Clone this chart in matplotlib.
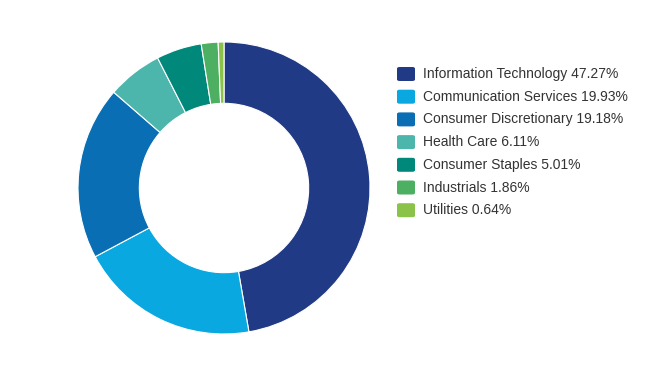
import matplotlib.pyplot as plt
from matplotlib.patches import FancyBboxPatch

# Data
sectors = ["Information Technology", "Communication Services", "Consumer Discretionary",
           "Health Care", "Consumer Staples", "Industrials", "Utilities"]
weights = [47.27, 19.93, 19.18, 6.11, 5.01, 1.86, 0.64]
colors = ["#213a85", "#0aa8e0", "#0a6eb4", "#4db6ac", "#00897b", "#4caf62", "#8bc34a"]

plt.rcParams['font.family'] = ['Liberation Sans', 'DejaVu Sans']

W, H = 659, 385
fig = plt.figure(figsize=(W / 100, H / 100), dpi=100)
fig.patch.set_facecolor("white")

# Donut
cx, cy, r = 224, 188, 146
ax = fig.add_axes([(cx - r) / W, (H - cy - r) / H, 2 * r / W, 2 * r / H])
ax.pie(weights, colors=colors, startangle=90, counterclock=False,
       wedgeprops=dict(width=0.42, edgecolor="white", linewidth=0.8))
ax.set_aspect("equal")
ax.set_xlim(-1, 1)
ax.set_ylim(-1, 1)

# Legend
y0, dy = 74, 22.7
for i, (name, val, c) in enumerate(zip(sectors, weights, colors)):
    y = y0 + i * dy
    box = FancyBboxPatch(((397) / W, (H - y - 7) / H), 18 / W, 14 / H,
                         boxstyle="round,pad=0,rounding_size=0.004",
                         transform=fig.transFigure, facecolor=c, edgecolor="none")
    fig.add_artist(box)
    fig.text(423 / W, (H - y) / H, f"{name} {val:.2f}%", fontsize=10,
             color="#333333", va="center", ha="left")

fig.savefig("out.png", dpi=100)
